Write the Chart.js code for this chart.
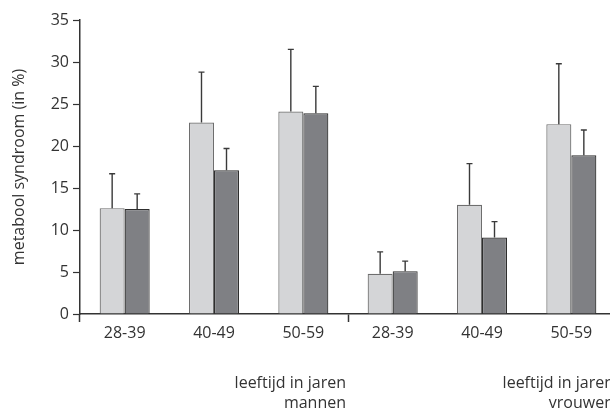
<!DOCTYPE html>
<html>
<head>
<meta charset="utf-8">
<script src="https://cdn.jsdelivr.net/npm/chart.js@4/dist/chart.umd.min.js"></script>
<style>
  html, body { margin: 0; padding: 0; background: #fff; overflow: hidden; width: 610px; height: 412px; }
  #wrap { position: absolute; left: 0; top: 0; width: 640px; height: 412px; }
</style>
</head>
<body>
<div id="wrap"><canvas id="c"></canvas></div>
<script>
// Data
const categories = ['28-39', '40-49', '50-59', '28-39', '40-49', '50-59'];
const lightValues = [12.6, 22.8, 24.1, 4.8, 13.0, 22.6];
const lightErrorTop = [16.7, 28.8, 31.5, 7.4, 17.9, 29.8];
const darkValues = [12.5, 17.1, 23.9, 5.1, 9.1, 18.9];
const darkErrorTop = [14.3, 19.7, 27.1, 6.3, 11.0, 21.9];
const yTitle = 'metabool syndroom (in %)';
const groupTitle = 'leeftijd in jaren';
const groupNames = ['mannen', 'vrouwen'];
const groupSize = 3;

const FONT = '"Open Sans", Lato, sans-serif';
const TEXT = '#333';

const errorBars = {
  id: 'errorBars',
  afterDatasetsDraw(chart) {
    const ctx = chart.ctx;
    const y = chart.scales.y;
    const tops = [lightErrorTop, darkErrorTop];
    ctx.save();
    ctx.strokeStyle = '#3a3a3a';
    ctx.lineWidth = 1.4;
    chart.data.datasets.forEach((ds, di) => {
      const meta = chart.getDatasetMeta(di);
      meta.data.forEach((el, i) => {
        const yTop = y.getPixelForValue(tops[di][i]);
        ctx.beginPath();
        ctx.moveTo(el.x, el.y);
        ctx.lineTo(el.x, yTop);
        ctx.moveTo(el.x - 3, yTop);
        ctx.lineTo(el.x + 3, yTop);
        ctx.stroke();
      });
    });
    ctx.restore();
  }
};

const groupLabels = {
  id: 'groupLabels',
  afterDraw(chart) {
    const ctx = chart.ctx;
    const x = chart.scales.x;
    const half = (x.getPixelForValue(1) - x.getPixelForValue(0)) / 2;
    ctx.save();
    ctx.fillStyle = TEXT;
    ctx.font = '16px ' + FONT;
    ctx.textAlign = 'right';
    ctx.textBaseline = 'middle';
    groupNames.forEach((name, g) => {
      const lastIdx = (g + 1) * groupSize - 1;
      const right = x.getPixelForValue(lastIdx) + half - 2;
      ctx.fillText(groupTitle, right, 383);
      ctx.fillText(name, right, 403);
    });
    ctx.restore();
  }
};

new Chart(document.getElementById('c'), {
  type: 'bar',
  data: {
    labels: categories,
    datasets: [
      {
        data: lightValues,
        backgroundColor: '#d4d5d7',
        borderColor: '#6e6e6e',
        borderWidth: 1.2,
        categoryPercentage: 0.56,
        barPercentage: 1.0
      },
      {
        data: darkValues,
        backgroundColor: '#7f8084',
        borderColor: '#2e2e2e',
        borderWidth: 1.2,
        categoryPercentage: 0.56,
        barPercentage: 1.0
      }
    ]
  },
  options: {
    responsive: true,
    maintainAspectRatio: false,
    animation: false,
    layout: { padding: { top: 20, right: 24, bottom: 0, left: 0 } },
    plugins: {
      legend: { display: false },
      tooltip: { enabled: false }
    },
    scales: {
      x: {
        offset: true,
        afterFit: s => { s.height = 98; },
        border: { display: true, color: '#333', width: 1.5 },
        grid: {
          display: true,
          drawOnChartArea: false,
          tickLength: 8,
          tickWidth: 1.5,
          tickColor: c => (c.index === 0 || c.index === 3 || c.index === undefined) ? '#333' : 'rgba(0,0,0,0)'
        },
        ticks: { color: TEXT, font: { family: FONT, size: 16 }, padding: 2, maxRotation: 0 }
      },
      y: {
        min: 0,
        max: 35,
        afterFit: s => { s.width = 80; },
        border: { display: true, color: '#333', width: 1.5 },
        grid: { display: true, drawOnChartArea: false, tickLength: 7, tickColor: '#333', tickWidth: 1.2 },
        ticks: { stepSize: 5, color: TEXT, font: { family: FONT, size: 16 }, padding: 4 },
        title: {
          display: true,
          text: yTitle,
          color: TEXT,
          font: { family: FONT, size: 16 },
          padding: { top: 10, bottom: 0 }
        }
      }
    }
  },
  plugins: [errorBars, groupLabels]
});
</script>
</body>
</html>
